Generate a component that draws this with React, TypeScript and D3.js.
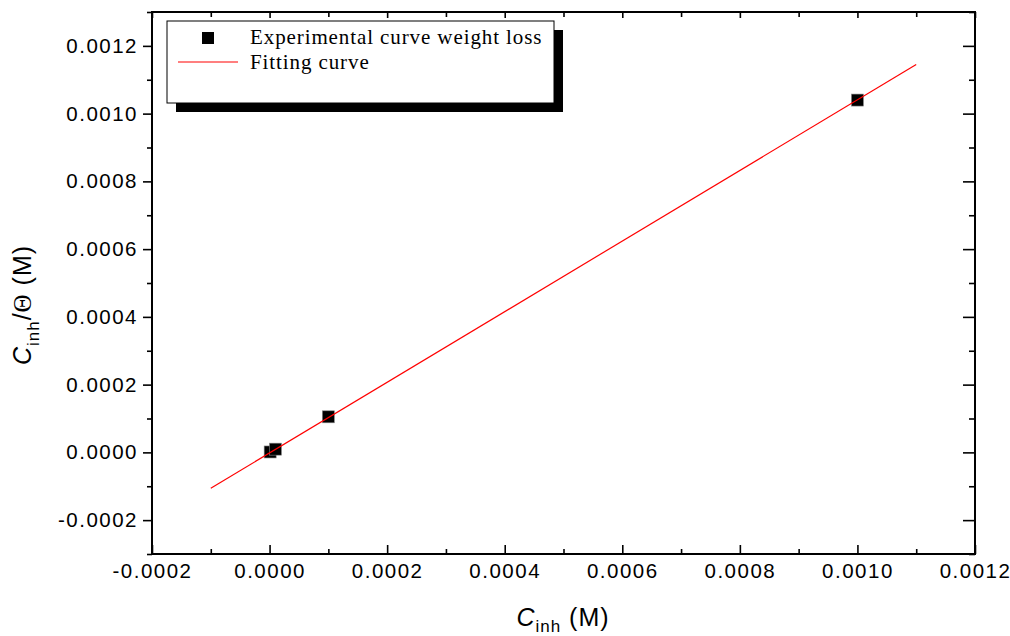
import React, { useRef, useEffect } from "react";
import * as d3 from "d3";

// experimental points (C_inh, C_inh/theta)
const expX = [0.000001, 0.00001, 0.0001, 0.001];
const expY = [0.0000012, 0.0000095, 0.000105, 0.00104];

// fitted straight line, end points
const fitX = [-0.0001, 0.0011];
const fitY = [-0.000106, 0.001145];

const xMajor = [-0.0002, 0, 0.0002, 0.0004, 0.0006, 0.0008, 0.001, 0.0012];
const xMinor = [-0.0001, 0.0001, 0.0003, 0.0005, 0.0007, 0.0009, 0.0011];
const yMajor = [-0.0002, 0, 0.0002, 0.0004, 0.0006, 0.0008, 0.001, 0.0012];
const yMinor = [-0.0003, -0.0001, 0.0001, 0.0003, 0.0005, 0.0007, 0.0009, 0.0011, 0.0013];

const legendLabels = ["Experimental curve weight loss", "Fitting curve"];

export default function App() {
  const svgRef = useRef<SVGSVGElement>(null);

  useEffect(() => {
    const svg = d3.select(svgRef.current);
    svg.selectAll("*").remove();

    const width = 1010;
    const height = 636;
    const margin = { top: 12, right: 35, bottom: 82, left: 152 };
    const innerW = width - margin.left - margin.right;
    const innerH = height - margin.top - margin.bottom;

    svg.attr("viewBox", `0 0 ${width} ${height}`);
    svg.append("rect").attr("width", width).attr("height", height).attr("fill", "#fff");

    const g = svg.append("g").attr("transform", `translate(${margin.left},${margin.top})`);

    const x = d3.scaleLinear().domain([-0.0002, 0.0012]).range([0, innerW]);
    const y = d3.scaleLinear().domain([-0.0003, 0.0013]).range([innerH, 0]);
    const f4 = d3.format(".4f");
    const fmt = (d: any) => f4(d).replace("\u2212", "-");
    const sans = "'Liberation Sans', Arial, sans-serif";
    const serif = "'Liberation Serif', 'Times New Roman', serif";

    const styleAxis = (sel: any) => {
      sel.select(".domain").remove();
      sel.selectAll("line").attr("stroke", "#000").attr("stroke-width", 1.6);
      sel.selectAll("text").attr("font-family", sans).attr("font-size", 20.5)
        .attr("letter-spacing", 1.5).attr("fill", "#000");
    };

    // left: outward ticks with labels
    g.append("g").call(d3.axisLeft(y).tickValues(yMajor).tickSize(9).tickPadding(5).tickFormat(fmt)).call(styleAxis);
    g.append("g").call(d3.axisLeft(y).tickValues(yMinor).tickSize(5).tickFormat(() => "")).call(styleAxis);

    // right: inward ticks
    g.append("g").attr("transform", `translate(${innerW},0)`)
      .call(d3.axisRight(y).tickValues(yMajor).tickSize(-12).tickFormat(() => "")).call(styleAxis);
    g.append("g").attr("transform", `translate(${innerW},0)`)
      .call(d3.axisRight(y).tickValues(yMinor).tickSize(-6).tickFormat(() => "")).call(styleAxis);

    // bottom: inward ticks, labels below
    g.append("g").attr("transform", `translate(0,${innerH})`)
      .call(d3.axisBottom(x).tickValues(xMajor).tickSize(-9).tickPadding(9).tickFormat(fmt)).call(styleAxis);
    g.append("g").attr("transform", `translate(0,${innerH})`)
      .call(d3.axisBottom(x).tickValues(xMinor).tickSize(-5).tickFormat(() => "")).call(styleAxis);

    // top: inward ticks
    g.append("g").call(d3.axisTop(x).tickValues(xMajor).tickSize(-6).tickFormat(() => "")).call(styleAxis);
    g.append("g").call(d3.axisTop(x).tickValues(xMinor).tickSize(-5).tickFormat(() => "")).call(styleAxis);

    // frame
    g.append("rect").attr("width", innerW).attr("height", innerH)
      .attr("fill", "none").attr("stroke", "#000").attr("stroke-width", 2);

    // experimental squares
    const s = 12;
    g.selectAll("rect.pt")
      .data(expX.map((v, i) => ({ x: v, y: expY[i] })))
      .join("rect")
      .attr("class", "pt")
      .attr("x", (d) => x(d.x) - s / 2)
      .attr("y", (d) => y(d.y) - s / 2)
      .attr("width", s).attr("height", s)
      .attr("fill", "#000").attr("stroke", "#888").attr("stroke-width", 0.6);

    // fitting line over the squares
    const fitRows = fitX.map((v, i) => ({ x: v, y: fitY[i] }));
    g.append("path").datum(fitRows)
      .attr("fill", "none").attr("stroke", "#ff0000").attr("stroke-width", 1.2)
      .attr("d", d3.line<any>().x((d) => x(d.x)).y((d) => y(d.y)));

    // legend with shadow
    const lg = svg.append("g").attr("transform", "translate(167,21)");
    lg.append("rect").attr("x", 9).attr("y", 9).attr("width", 387).attr("height", 82).attr("fill", "#000");
    lg.append("rect").attr("width", 387).attr("height", 82).attr("fill", "#fff").attr("stroke", "#000").attr("stroke-width", 1);
    lg.append("rect").attr("x", 35).attr("y", 11).attr("width", 12).attr("height", 12).attr("fill", "#000");
    lg.append("line").attr("x1", 11).attr("x2", 71).attr("y1", 41).attr("y2", 41)
      .attr("stroke", "#ff0000").attr("stroke-width", 1.2);
    legendLabels.forEach((t, i) => {
      lg.append("text").attr("x", 83).attr("y", 23 + i * 25)
        .attr("font-family", serif).attr("font-size", 21).attr("letter-spacing", 0.9)
        .attr("fill", "#000").text(t);
    });

    // axis titles
    const xt = svg.append("text").attr("x", 563).attr("y", 626)
      .attr("text-anchor", "middle").attr("font-family", sans).attr("font-size", 25)
      .attr("letter-spacing", 1).attr("fill", "#000");
    xt.append("tspan").attr("font-style", "italic").text("C");
    xt.append("tspan").attr("font-size", 17).attr("dy", 6).text("inh");
    xt.append("tspan").attr("dy", -6).text(" (M)");

    const yt = svg.append("text").attr("transform", "translate(31,305) rotate(-90)")
      .attr("text-anchor", "middle").attr("font-family", sans).attr("font-size", 25)
      .attr("letter-spacing", 1).attr("fill", "#000");
    yt.append("tspan").attr("font-style", "italic").text("C");
    yt.append("tspan").attr("font-size", 17).attr("dy", 8).text("inh");
    yt.append("tspan").attr("dy", -8).text("/");
    yt.append("tspan").attr("font-family", serif).attr("font-size", 25).text("Θ");
    yt.append("tspan").text(" (M)");
  }, []);

  return (
    <svg ref={svgRef} width={1010} height={636} style={{ position: "absolute", left: 0, top: 0 }} />
  );
}
